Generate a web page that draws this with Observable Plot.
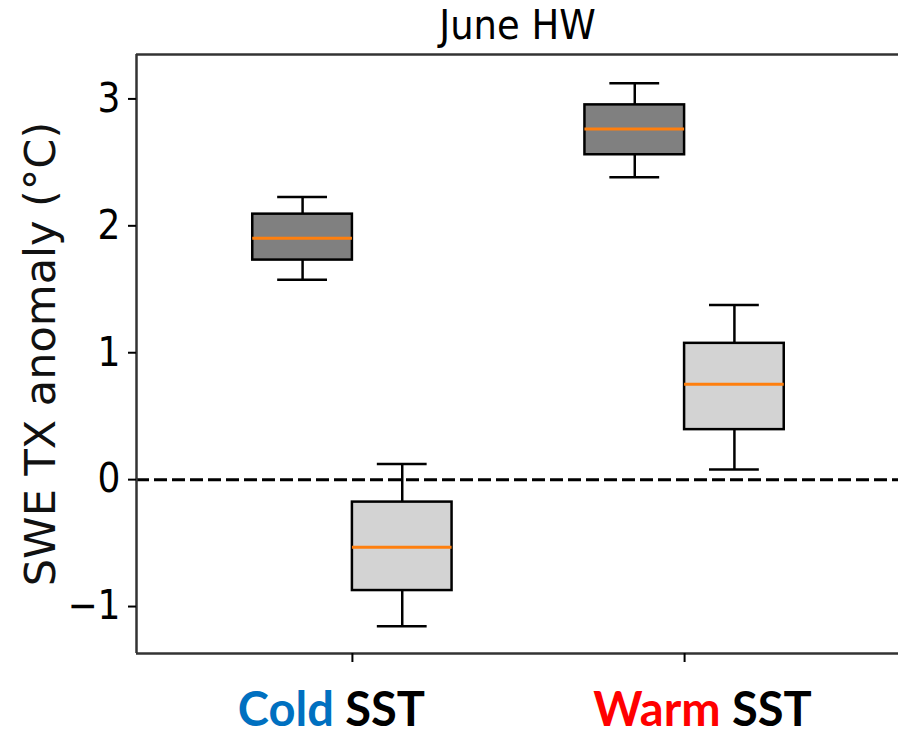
<!DOCTYPE html>
<html><head><meta charset="utf-8">
<script src="https://cdn.jsdelivr.net/npm/d3@7"></script>
<script src="https://cdn.jsdelivr.net/npm/@observablehq/plot@0.6"></script>
<style>body{margin:0;background:#fff}</style>
</head><body><div id="chart"></div>
<script>
// ---- data ----
const groups = ["Cold SST", "Warm SST"];
const groupWords = ["Cold", "Warm"];
const groupWordColors = ["#0070C0", "#FF0000"];
const series = ["dark", "light"];
// [group][series]
const whiskerLow  = [[1.575, -1.155], [2.383, 0.080]];
const q1          = [[1.730, -0.874], [2.560, 0.394]];
const median      = [[1.903, -0.533], [2.762, 0.752]];
const q3          = [[2.092, -0.177], [2.953, 1.074]];
const whiskerHigh = [[2.228,  0.124], [3.124, 1.376]];
const yTicks = [-1, 0, 1, 2, 3];
const title = "June HW";
const yLabel = "SWE TX anomaly (°C)";

// ---- layout / style ----
const xDomain = [0.35, 2.65];
const yDomain = [-1.37, 3.35];
const boxW = 0.3, capHalf = 0.075;
const fills = {dark: "#808080", light: "#d3d3d3"};
const labelShift = [-21, 18];

const rows = [];
groups.forEach((g, gi) => series.forEach((s, si) => {
  const x1 = gi + 1 + (si === 0 ? -boxW : 0);
  rows.push({group: g, series: s, x1, x2: x1 + boxW, xc: x1 + boxW / 2,
    low: whiskerLow[gi][si], q1: q1[gi][si], med: median[gi][si],
    q3: q3[gi][si], high: whiskerHigh[gi][si]});
}));

const frameStroke = "#333";
const plot = Plot.plot({
  width: 898, height: 735,
  marginTop: 54, marginBottom: 82, marginLeft: 136, marginRight: 0,
  style: {fontFamily: "'DejaVu Sans Condensed', 'DejaVu Sans', sans-serif", fontSize: "40px", background: "#fff", color: "#000"},
  x: {domain: xDomain, range: [136, 900]},
  y: {domain: yDomain},
  marks: [
    Plot.ruleY([0], {stroke: "#000", strokeWidth: 3, strokeDasharray: "13,5"}),
    Plot.ruleX(rows, {x: "xc", y1: "low", y2: "q1", stroke: "#000", strokeWidth: 2.5}),
    Plot.ruleX(rows, {x: "xc", y1: "q3", y2: "high", stroke: "#000", strokeWidth: 2.5}),
    Plot.ruleY(rows, {y: "low", x1: d => d.xc - capHalf, x2: d => d.xc + capHalf, stroke: "#000", strokeWidth: 2.5}),
    Plot.ruleY(rows, {y: "high", x1: d => d.xc - capHalf, x2: d => d.xc + capHalf, stroke: "#000", strokeWidth: 2.5}),
    Plot.rect(rows, {x1: "x1", x2: "x2", y1: "q1", y2: "q3", fill: d => fills[d.series], stroke: "#000", strokeWidth: 2.5}),
    Plot.ruleY(rows, {y: "med", x1: "x1", x2: "x2", stroke: "#ff7f0e", strokeWidth: 3}),
    Plot.ruleY([yDomain[1]], {stroke: frameStroke, strokeWidth: 2.5}),
    Plot.ruleY([yDomain[0]], {stroke: frameStroke, strokeWidth: 2.5}),
    Plot.ruleX([xDomain[0]], {stroke: frameStroke, strokeWidth: 2.5}),
    Plot.axisY({ticks: yTicks, tickSize: 8, tickPadding: 8, strokeWidth: 2,
      tickFormat: d => d < 0 ? "\u2212" + Math.abs(d) : String(d), label: null}),
    Plot.axisX({ticks: [1, 2], tickSize: 9, tickPadding: 30, strokeWidth: 2,
      tickFormat: d => groups[d - 1], label: null,
      fontSize: 47, fontFamily: "Lato, 'Open Sans', sans-serif", fontWeight: "bold"}),
    Plot.text([title], {frameAnchor: "top", lineAnchor: "bottom", dy: -16, fontSize: 41}),
    Plot.text([yLabel], {frameAnchor: "left", textAnchor: "middle", rotate: -90, dx: -95, fontSize: 43,
      fontFamily: "'DejaVu Sans', sans-serif", fill: "#111"})
  ]
});
document.getElementById("chart").appendChild(plot);

// colour the first word of the x tick labels
const svg = d3.select(plot.tagName.toLowerCase() === "svg" ? plot : plot.querySelector("svg"));
svg.selectAll("[aria-label='x-axis tick label'] text").each(function(d, i) {
  const t = d3.select(this);
  t.text(null);
  t.append("tspan").attr("fill", groupWordColors[i]).text(groupWords[i]);
  t.append("tspan").attr("fill", "#000").text(groups[i].slice(groupWords[i].length));
  t.attr("dx", labelShift[i]);
});
</script>
</body></html>
